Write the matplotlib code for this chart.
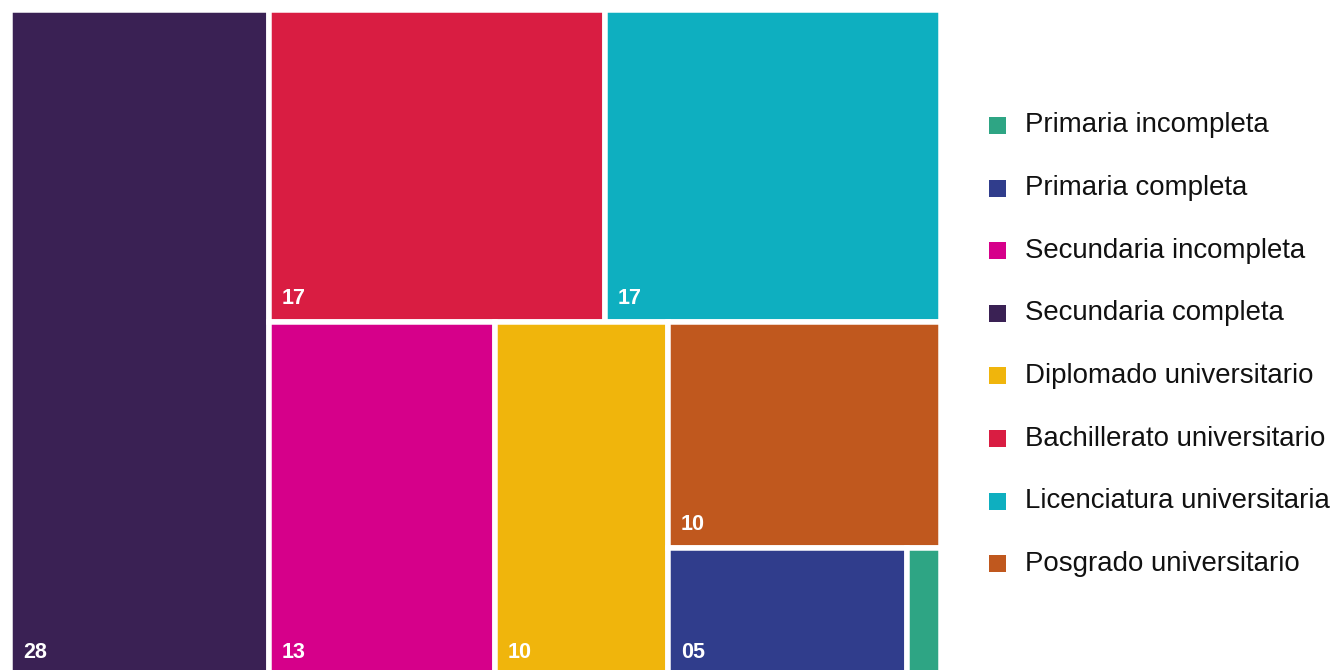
import matplotlib
matplotlib.use("Agg")
import matplotlib.pyplot as plt
from matplotlib.patches import Rectangle

plt.rcParams["font.family"] = ["Liberation Sans", "DejaVu Sans"]

# Education level shares (%)
categories = [
    "Primaria incompleta",
    "Primaria completa",
    "Secundaria incompleta",
    "Secundaria completa",
    "Diplomado universitario",
    "Bachillerato universitario",
    "Licenciatura universitaria",
    "Posgrado universitario",
]
values = [0.7, 5, 13, 28, 10, 17, 17, 10]
show_label = [False, True, True, True, True, True, True, True]
colors = [
    "#2ea584",
    "#303d8c",
    "#d6008a",
    "#3a2154",
    "#f0b50c",
    "#d91d42",
    "#0eafc0",
    "#c0581e",
]

# Nesting of the treemap: 'h' splits side by side, 'v' stacks top to bottom
layout_tree = ("h", [
    3,
    ("v", [
        ("h", [5, 6]),
        ("h", [2, 4, ("v", [7, ("h", [1, 0])])]),
    ]),
])


def node_total(node):
    if isinstance(node, int):
        return values[node]
    return sum(node_total(c) for c in node[1])


def place(node, x, y, w, h, out):
    if isinstance(node, int):
        out[node] = (x, y, w, h)
        return
    kind, children = node
    total = node_total(node)
    pos = 0.0
    for c in children:
        frac = node_total(c) / total
        if kind == "h":
            place(c, x + pos * w, y, frac * w, h, out)
        else:
            place(c, x, y + pos * h, w, frac * h, out)
        pos += frac


W, H = 1339, 670
fig = plt.figure(figsize=(W / 100, H / 100), dpi=100)
ax = fig.add_axes([0, 0, 1, 1])
ax.set_xlim(0, W)
ax.set_ylim(H, 0)
ax.axis("off")

gap = 5.5  # white separation in pixels
gap_pt = gap * 72 / 100
rects = {}
place(layout_tree, 10.25, 10.25, 930.25, 666, rects)

for i, (x, y, w, h) in rects.items():
    ax.add_patch(Rectangle((x, y), w, h, facecolor=colors[i],
                           edgecolor="white", linewidth=gap_pt))
    if show_label[i]:
        vis_left = x + gap / 2
        vis_bottom = min(y + h - gap / 2, 673.25)
        ax.text(vis_left + 10, vis_bottom - 15, f"{values[i]:02d}",
                color="white", fontsize=15.5, fontweight="bold",
                ha="left", va="baseline")

# Legend drawn as colored squares with labels
leg_x, leg_y0, leg_dy, sq = 989, 125.5, 62.6, 17
for k, (name, col) in enumerate(zip(categories, colors)):
    cy = leg_y0 + k * leg_dy
    ax.add_patch(Rectangle((leg_x, cy - sq / 2), sq, sq, facecolor=col,
                           edgecolor="none"))
    ax.text(1025, cy, name, fontsize=19.9, color="#111111",
            ha="left", va="center")

fig.savefig("out.png", dpi=100, facecolor="white")
